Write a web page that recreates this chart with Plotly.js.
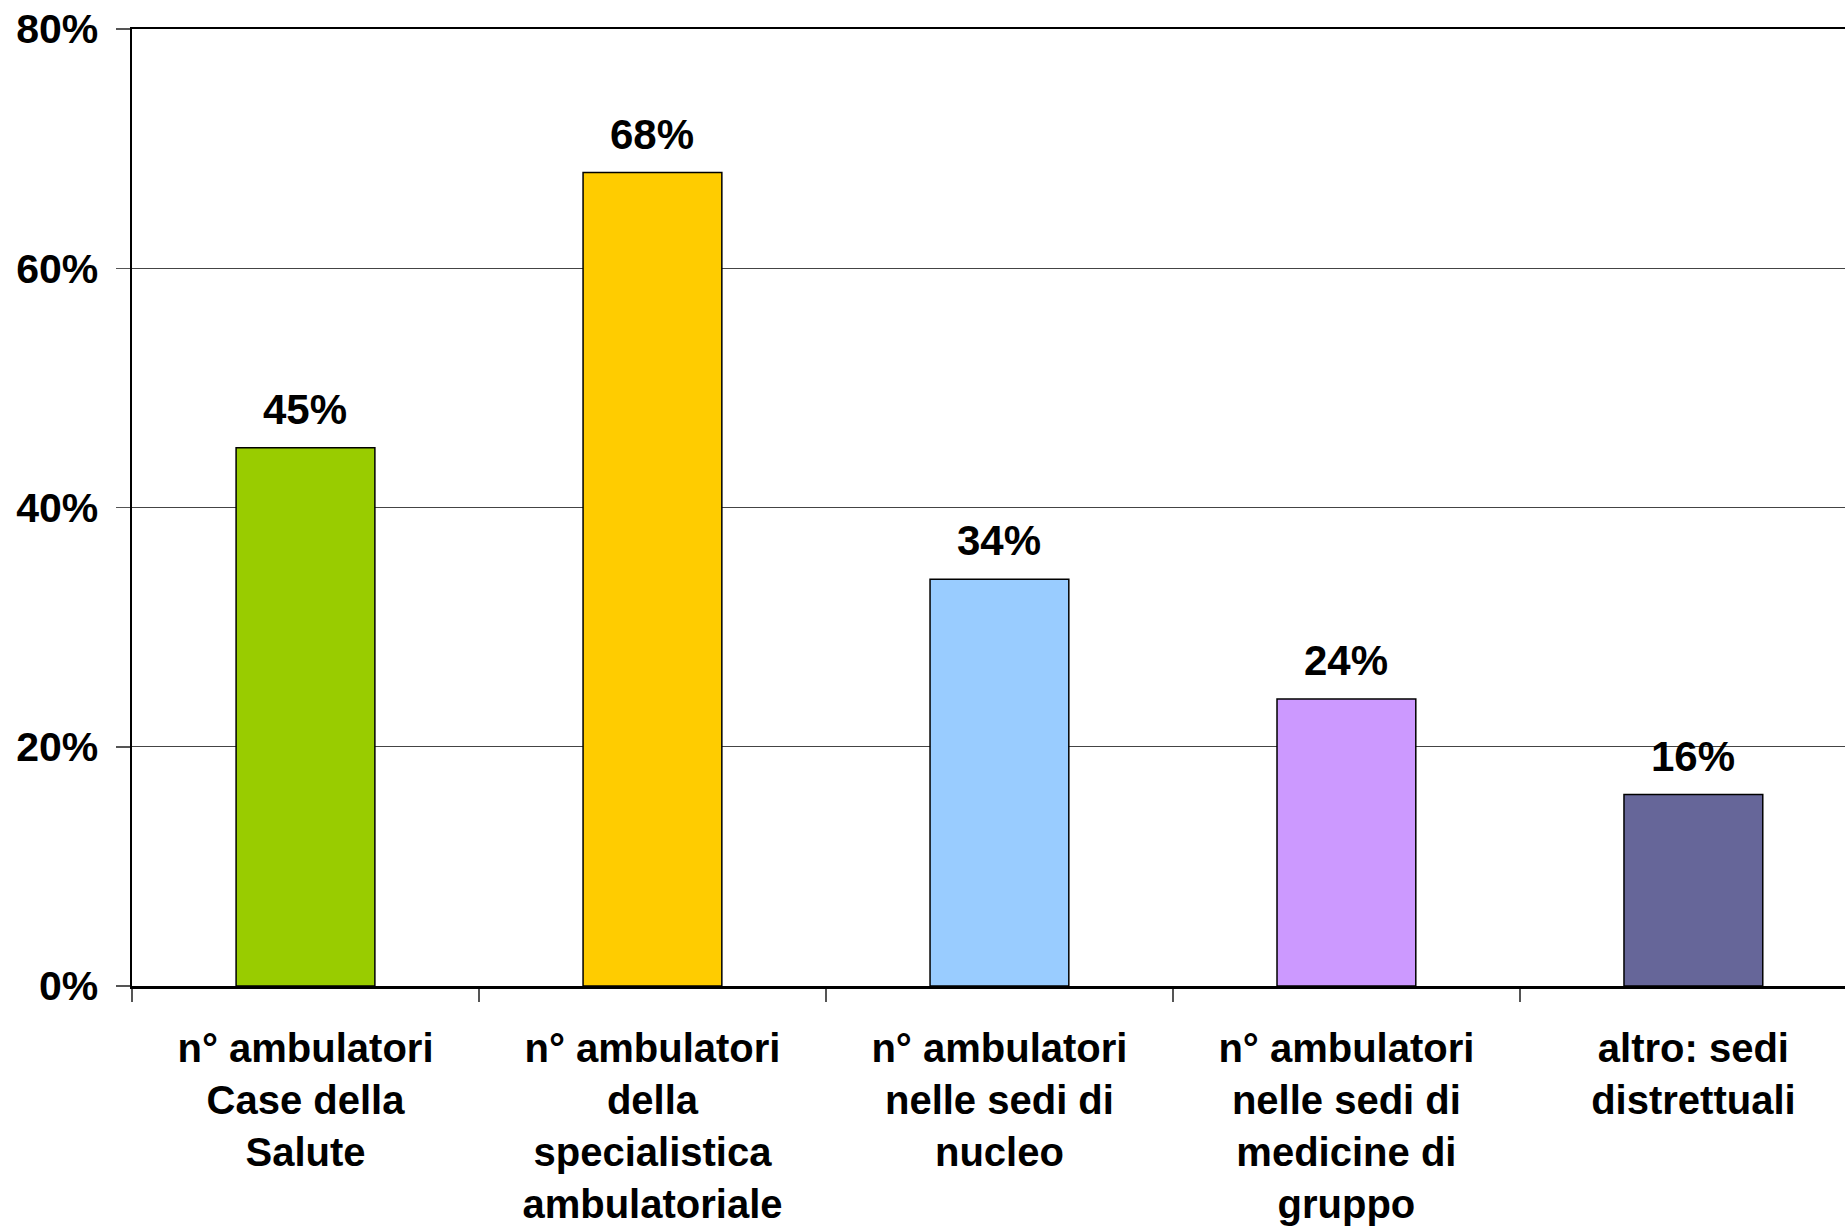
<!DOCTYPE html>
<html>
<head>
<meta charset="utf-8">
<script src="https://cdn.plot.ly/plotly-3.0.1.min.js"></script>
<style>html,body{margin:0;padding:0;background:#fff;}#chart{width:1845px;height:1227px;}</style>
</head>
<body>
<div id="chart"></div>
<script>
const categories = [
  "n° ambulatori<br>Case della<br>Salute",
  "n° ambulatori<br>della<br>specialistica<br>ambulatoriale",
  "n° ambulatori<br>nelle sedi di<br>nucleo",
  "n° ambulatori<br>nelle sedi di<br>medicine di<br>gruppo",
  "altro: sedi<br>distrettuali"
];
const values = [45, 68, 34, 24, 16];
const labels = ["45%", "68%", "34%", "24%", "16%"];
const colors = ["#99CC00", "#FFCC00", "#99CCFF", "#CC99FF", "#666699"];
const yTicks = [0, 20, 40, 60, 80];

const FONT = "Liberation Sans, Arial, sans-serif";

const trace = {
  type: "bar",
  x: categories,
  y: values,
  width: 0.4,
  marker: {color: colors, line: {color: "#000", width: 1.5}},
  hoverinfo: "skip"
};

const annotations = categories.map((c, i) => ({
  x: c, y: values[i], xref: "x", yref: "y",
  text: labels[i], showarrow: false,
  yanchor: "bottom", yshift: 13,
  font: {family: FONT, size: 42, color: "#000", weight: "bold"}
}));

const layout = {
  width: 1845, height: 1227,
  margin: {l: 132, r: 0, t: 29, b: 241},
  paper_bgcolor: "#fff", plot_bgcolor: "#fff",
  showlegend: false,
  bargap: 0.6,
  xaxis: {
    type: "category",
    range: [-0.5, 4.437],
    showline: true, mirror: true, linecolor: "#000", linewidth: 2.5,
    ticks: "outside", tickson: "boundaries", ticklen: 13, tickcolor: "#555", tickwidth: 1.5,
    ticklabelstandoff: 25,
    showgrid: false, zeroline: false,
    tickfont: {family: FONT, size: 40, color: "#000", weight: "bold"},
    tickangle: 0,
    fixedrange: true
  },
  yaxis: {
    range: [0, 80],
    tickvals: yTicks,
    ticktext: yTicks.map(v => v + "%"),
    showline: true, linecolor: "#000", linewidth: 2.5,
    ticks: "outside", ticklen: 14, tickcolor: "#555", tickwidth: 1.5,
    ticklabelstandoff: 9,
    showgrid: true, gridcolor: "#444", gridwidth: 1,
    zeroline: false,
    tickfont: {family: FONT, size: 41, color: "#000", weight: "bold"},
    fixedrange: true
  },
  annotations: annotations
};

Plotly.newPlot("chart", [trace], layout, {staticPlot: true, displayModeBar: false});
</script>
</body>
</html>
